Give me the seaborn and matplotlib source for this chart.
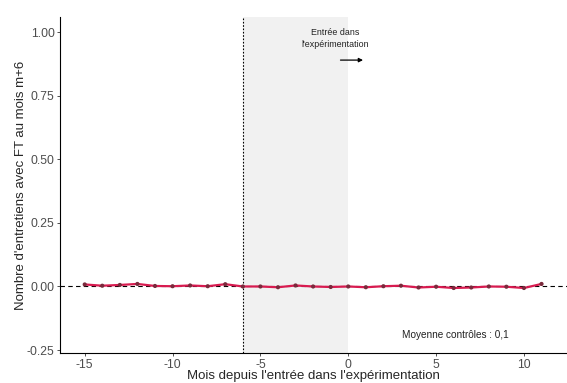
import numpy as np
import pandas as pd
import matplotlib
matplotlib.use("Agg")
import matplotlib.pyplot as plt
import seaborn as sns

# ================= DATA =================
mois = list(range(-15, 12))
effet = [0.008, 0.003, 0.006, 0.010, 0.002, 0.001, 0.004, 0.001, 0.009,
         0.000, 0.000, -0.003, 0.004, 0.000, -0.002, 0.000, -0.003, 0.001,
         0.003, -0.004, -0.001, -0.006, -0.004, 0.000, -0.001, -0.006, 0.010]
y_ticks = [-0.25, 0.00, 0.25, 0.50, 0.75, 1.00]
x_ticks = [-15, -10, -5, 0, 5, 10]
entree = -6
fin_zone = 0

sns.set_theme(style="ticks")
plt.rcParams['font.family'] = ['Liberation Sans', 'DejaVu Sans']

df = pd.DataFrame({"mois": mois, "effet": effet})

fig = plt.figure(figsize=(5.67, 3.83), dpi=100)
ax = fig.add_axes([0.106, 0.078, 0.894, 0.878])

# shaded pre-entry window
ax.axvspan(entree, fin_zone, color="#f1f1f1", zorder=0, lw=0)
ax.axvline(entree, color="black", ls=(0, (1.5, 1.5)), lw=0.8, zorder=1)
ax.axhline(0, color="black", ls=(0, (4, 3)), lw=0.8, zorder=1)

sns.lineplot(data=df, x="mois", y="effet", ax=ax, color="#d81b50", lw=1.6, zorder=3)
sns.scatterplot(data=df, x="mois", y="effet", ax=ax, color="#7a2a3c", s=9,
                edgecolor="none", zorder=4)

ax.set_xlim(-16.4, 12.45)
ax.set_ylim(-0.262, 1.06)
ax.set_xticks(x_ticks)
ax.set_xticklabels([str(t) for t in x_ticks])
ax.set_yticks(y_ticks)
ax.set_yticklabels([f"{t:.2f}" for t in y_ticks])
ax.tick_params(labelsize=8.8, labelcolor="#4d4d4d", length=2.5, width=0.6,
               color="#333333", pad=1.5)

for s in ["top", "right"]:
    ax.spines[s].set_visible(False)
for s in ["left", "bottom"]:
    ax.spines[s].set_linewidth(0.8)
    ax.spines[s].set_color("black")

ax.set_xlabel("Mois depuis l'entrée dans l'expérimentation", fontsize=9.5, labelpad=-0.5)
ax.set_ylabel("Nombre d'entretiens avec FT au mois m+6", fontsize=9.5, labelpad=0)

ax.text(-0.75, 0.975, "Entrée dans\nl'expérimentation", ha="center", va="center",
        fontsize=6.4, color="#222222", linespacing=1.55)
ax.annotate("", xy=(1.0, 0.89), xytext=(-0.6, 0.89),
            arrowprops=dict(arrowstyle="-|>", color="black", lw=0.9, mutation_scale=6))
ax.text(6.1, -0.19, "Moyenne contrôles : 0,1", ha="center", va="center",
        fontsize=7.2, color="#222222")

fig.savefig("out.png", dpi=100)
